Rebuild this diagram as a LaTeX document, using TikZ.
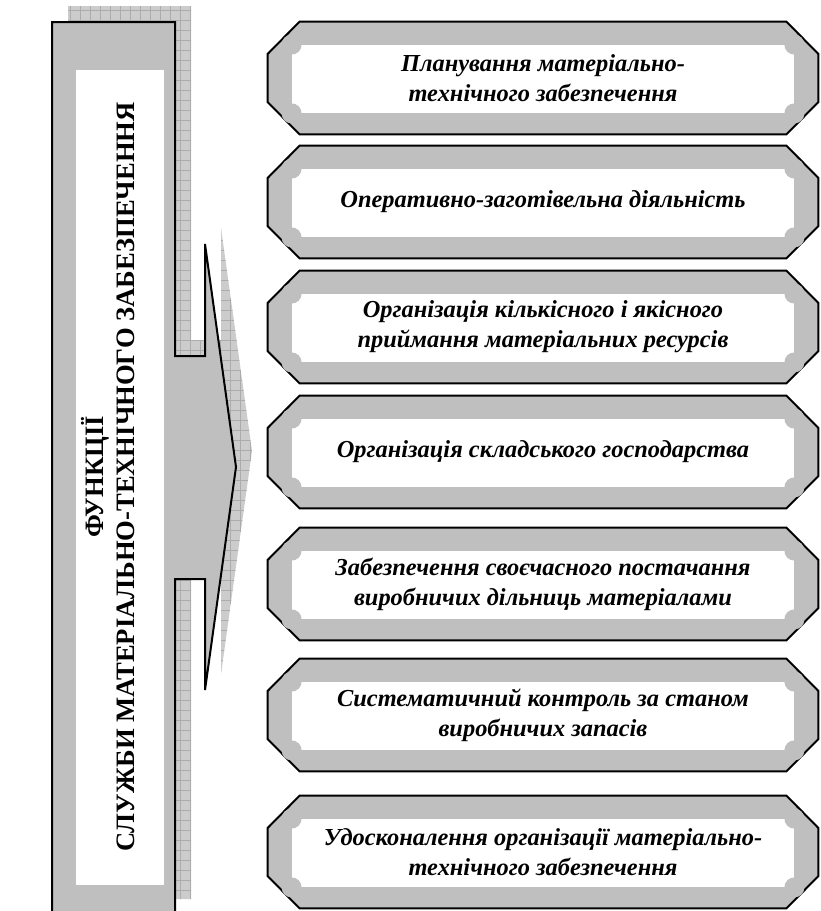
\documentclass[tikz,border=0pt]{standalone}
\usepackage{fontspec}
\setmainfont{Liberation Serif}
\usetikzlibrary{calc,backgrounds}

\begin{document}
\begin{tikzpicture}[
  x=0.5pt,y=-0.5pt,
  item/.style={rectangle,inner sep=0pt,minimum width=275pt,minimum height=56pt,align=center,font=\fontsize{12.2}{15}\selectfont\bfseries\itshape},
  title/.style={rotate=90,inner sep=0pt,align=center,font=\fontsize{13.3}{15.5}\selectfont\bfseries},
  frame/.style={fill=gray!50,draw=black,line width=1pt},
  shade/.style={fill=gray!40},
  hatch/.style={draw=gray!65,line width=0.3pt}
]
\useasboundingbox (0,0) rectangle (820,911);
\clip (0,0) rectangle (820,911);

\node[title] (title) at (108,477) {ФУНКЦІЇ\\СЛУЖБИ МАТЕРІАЛЬНО-ТЕХНІЧНОГО ЗАБЕЗПЕЧЕННЯ};

\node[item] (f1) at (543,78) {Планування матеріально-\\технічного забезпечення};
\node[item] (f2) at (543,202) {Оперативно-заготівельна діяльність};
\node[item] (f3) at (543,327) {Організація кількісного і якісного\\приймання матеріальних ресурсів};
\node[item] (f4) at (543,452) {Організація складського господарства};
\node[item] (f5) at (543,584) {Забезпечення своєчасного постачання\\виробничих дільниць матеріалами};
\node[item] (f6) at (543,715) {Систематичний контроль за станом\\виробничих запасів};
\node[item] (f7) at (543,852) {Удосконалення організації матеріально-\\технічного забезпечення};

\begin{scope}[on background layer]
  % shadow
  \begin{scope}
    \clip[shift={(16,-16)}] (52,915) -- (52,22) -- (175,22) -- (175,356) -- (205,356) -- (205,244) -- (236,467) -- (205,690) -- (205,579) -- (175,579) -- (175,915) -- cycle;
    \fill[shade] (40,0) rectangle (280,911);
    \foreach \i in {40,50,...,280} \draw[hatch] (\i,0) -- (\i,911);
    \foreach \j in {0,10,...,910} \draw[hatch] (40,\j) -- (280,\j);
  \end{scope}
  % block with arrow
  \draw[frame] (52,915) -- (52,22) -- (175,22) -- (175,356) -- (205,356) -- (205,244) -- (236,467) -- (205,690) -- (205,579) -- (175,579) -- (175,915) -- cycle;
  \fill[white] (76,70) rectangle (164,885);
  % octagon frames
  \foreach \n in {f1,f2,f3,f4,f5,f6,f7} {
    \draw[frame] ($(\n.west)+(0,-24)$) -- ($(\n.north west)+(32,0)$) -- ($(\n.north east)+(-32,0)$) -- ($(\n.east)+(0,-24)$) -- ($(\n.east)+(0,24)$) -- ($(\n.south east)+(-32,0)$) -- ($(\n.south west)+(32,0)$) -- ($(\n.west)+(0,24)$) -- cycle;
    \fill[white] ($(\n.north west)+(24,23)$) rectangle ($(\n.south east)+(-24,-21)$);
    \foreach \c/\dx/\dy in {north west/24/23,north east/-24/23,south west/24/-21,south east/-24/-21}
      \fill[gray!50] ($(\n.\c)+(\dx,\dy)$) circle[radius=10];
  }
\end{scope}
\end{tikzpicture}
\end{document}
